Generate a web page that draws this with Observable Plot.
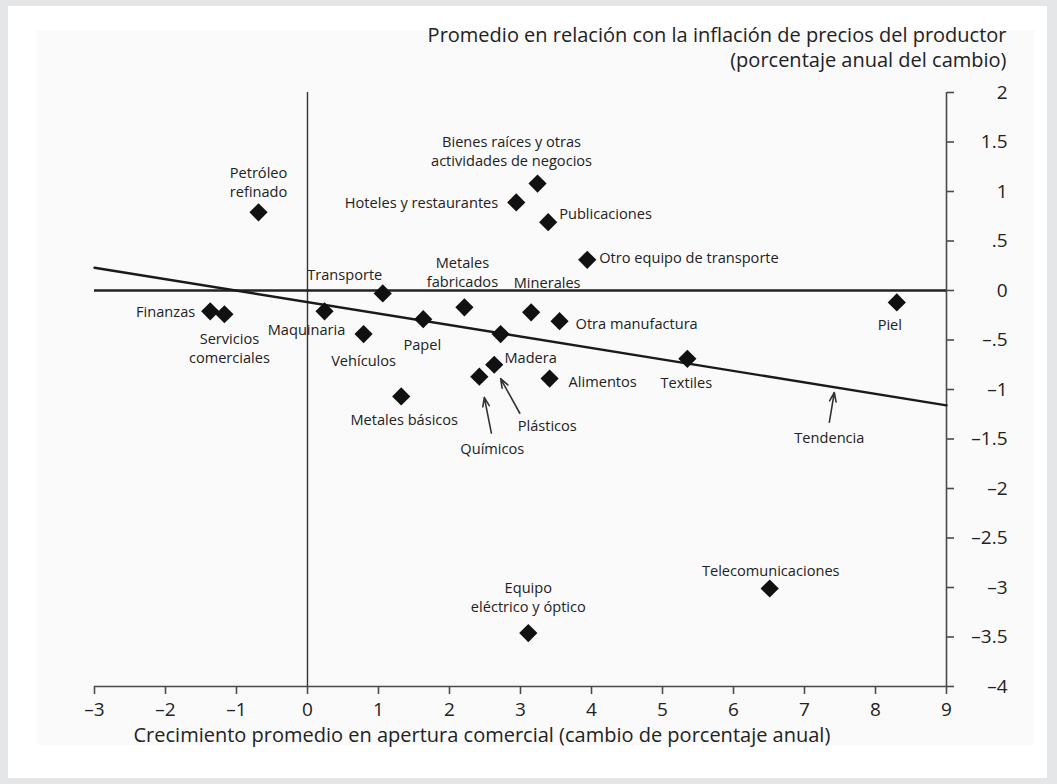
<!DOCTYPE html>
<html>
<head>
<meta charset="utf-8">
<script src="https://cdn.jsdelivr.net/npm/d3@7"></script>
<script src="https://cdn.jsdelivr.net/npm/@observablehq/plot@0.6"></script>
<style>
  html, body { margin: 0; padding: 0; background: #e5e6e8; }
  #card { position: absolute; left: 8px; top: 6px; width: 1039px; height: 772px; background: #ffffff; }
  #panel { position: absolute; left: 37px; top: 30px; width: 997px; height: 715px; background: #fafafa; }
  #chart { position: absolute; left: 0; top: 0; }
</style>
</head>
<body>
<div id="card"></div>
<div id="panel"></div>
<div id="chart"></div>
<script>
// ---- Data ----
const sectores = [
  "Petróleo\nrefinado",
  "Bienes raíces y otras\nactividades de negocios",
  "Hoteles y restaurantes",
  "Publicaciones",
  "Otro equipo de transporte",
  "Transporte",
  "Metales\nfabricados",
  "Minerales",
  "Otra manufactura",
  "Piel",
  "Finanzas",
  "Servicios\ncomerciales",
  "Maquinaria",
  "Vehículos",
  "Papel",
  "Madera",
  "Textiles",
  "Plásticos",
  "Químicos",
  "Alimentos",
  "Metales básicos",
  "Telecomunicaciones",
  "Equipo\neléctrico y óptico"
];
const apertura = [-0.69, 3.24, 2.94, 3.39, 3.94, 1.06, 2.21, 3.15, 3.55, 8.30, -1.37, -1.17, 0.24, 0.79, 1.63, 2.72, 5.35, 2.63, 2.42, 3.41, 1.32, 6.51, 3.11];
const inflacion = [0.79, 1.08, 0.89, 0.69, 0.31, -0.03, -0.17, -0.22, -0.31, -0.12, -0.21, -0.24, -0.21, -0.44, -0.29, -0.44, -0.69, -0.75, -0.87, -0.89, -1.07, -3.01, -3.46];

// trend line endpoints
const tendenciaX = [-3, 9];
const tendenciaY = [0.23, -1.16];

// annotation arrows (data units): from label towards target
const flechas = [
  {nombre: "Tendencia", x1: 7.35, y1: -1.33, x2: 7.42, y2: -1.03},
  {nombre: "Químicos", x1: 2.59, y1: -1.44, x2: 2.49, y2: -1.08},
  {nombre: "Plásticos", x1: 2.99, y1: -1.24, x2: 2.72, y2: -0.89}
];

const xTicks = [-3, -2, -1, 0, 1, 2, 3, 4, 5, 6, 7, 8, 9];
const yTicks = [-4, -3.5, -3, -2.5, -2, -1.5, -1, -0.5, 0, 0.5, 1, 1.5, 2];

const tituloY = ["Promedio en relación con la inflación de precios del productor", "(porcentaje anual del cambio)"];
const tituloX = "Crecimiento promedio en apertura comercial (cambio de porcentaje anual)";

// ---- Label placement (pixels relative to point) ----
const colocacion = [
  ["middle", 0, -31], ["middle", -26, -33], ["end", -18, 0], ["start", 11, -9],
  ["start", 12, -3], ["middle", -38, -20], ["middle", -2, -36], ["middle", 16, -30],
  ["start", 16, 2], ["middle", -7, 22], ["end", -15, 0], ["middle", 5, 33],
  ["middle", -18, 18], ["middle", 0, 26], ["middle", -1, 25], ["middle", 30, 23],
  ["middle", -1, 23], ["middle", 53, 60], ["middle", 13, 71], ["start", 19, 2],
  ["middle", 3, 22], ["middle", 1, -19], ["middle", 0, -37]
];

const puntos = sectores.map((s, i) => ({sector: s, x: apertura[i], y: inflacion[i]}));
const tendencia = tendenciaX.map((x, i) => ({x, y: tendenciaY[i]}));

const ink = "#222";
const axisInk = "#4a4a4a";
const FONT = "'Open Sans', sans-serif";

const fmtY = d => d === 0 ? "0" : (d < 0 ? "–" : "") + String(Math.abs(d)).replace(/^0\./, ".");
const fmtX = d => (d < 0 ? "–" : "") + Math.abs(d);

const labelMarks = puntos.map((p, i) => {
  const [anchor, dx, dy] = colocacion[i];
  return Plot.text([p], {
    x: "x", y: "y", text: "sector",
    textAnchor: anchor, dx, dy, lineAnchor: "middle",
    fontSize: 14.6, lineHeight: 1.3, fill: ink
  });
});

const chart = Plot.plot({
  width: 1057,
  height: 784,
  marginLeft: 94,
  marginRight: 111,
  marginTop: 92,
  marginBottom: 98,
  style: {background: "transparent", fontFamily: FONT, color: ink},
  x: {domain: [-3, 9], axis: null},
  y: {domain: [-4, 2], axis: null},
  marks: [
    // axes lines
    Plot.ruleY([-4], {stroke: axisInk, strokeWidth: 1.6}),
    Plot.ruleX([9], {stroke: axisInk, strokeWidth: 1.6}),
    Plot.axisX({
      anchor: "bottom", ticks: xTicks, tickFormat: fmtX, tickSize: 8, tickPadding: 8,
      fontSize: 19, stroke: axisInk, fill: ink, strokeWidth: 1.6
    }),
    Plot.axisY({
      anchor: "right", ticks: yTicks, tickFormat: fmtY, tickSize: 7, tickPadding: 54,
      textAnchor: "end", fontSize: 19, stroke: axisInk, fill: ink, strokeWidth: 1.6
    }),
    // zero lines
    Plot.ruleX([0], {stroke: "#333", strokeWidth: 1.4}),
    Plot.ruleY([0], {stroke: "#222", strokeWidth: 2.4}),
    // trend
    Plot.line(tendencia, {x: "x", y: "y", stroke: "#1a1a1a", strokeWidth: 2.4}),
    // arrows
    Plot.arrow(flechas, {x1: "x1", y1: "y1", x2: "x2", y2: "y2", stroke: "#333", strokeWidth: 1.6, headLength: 9, headAngle: 40}),
    // points
    Plot.dot(puntos, {x: "x", y: "y", symbol: "diamond2", r: 8.2, fill: "#111", stroke: "none"}),
    // labels
    ...labelMarks,
    Plot.text(["Tendencia"], {x: 7.35, y: -1.33, dx: 0, dy: 16, text: d => d, textAnchor: "middle", lineAnchor: "middle", fontSize: 14.6, fill: ink}),
    // titles
    Plot.text([tituloY[0]], {frameAnchor: "top-right", text: d => d, dx: 60, dy: -57, textAnchor: "end", lineAnchor: "middle", fontSize: 20, fill: ink}),
    Plot.text([tituloY[1]], {frameAnchor: "top-right", text: d => d, dx: 60, dy: -32, textAnchor: "end", lineAnchor: "middle", fontSize: 20, fill: ink}),
    Plot.text([tituloX], {frameAnchor: "bottom-left", text: d => d, dx: 39, dy: 49, textAnchor: "start", lineAnchor: "middle", fontSize: 20, fill: ink})
  ]
});
document.getElementById("chart").appendChild(chart);
</script>
</body>
</html>
